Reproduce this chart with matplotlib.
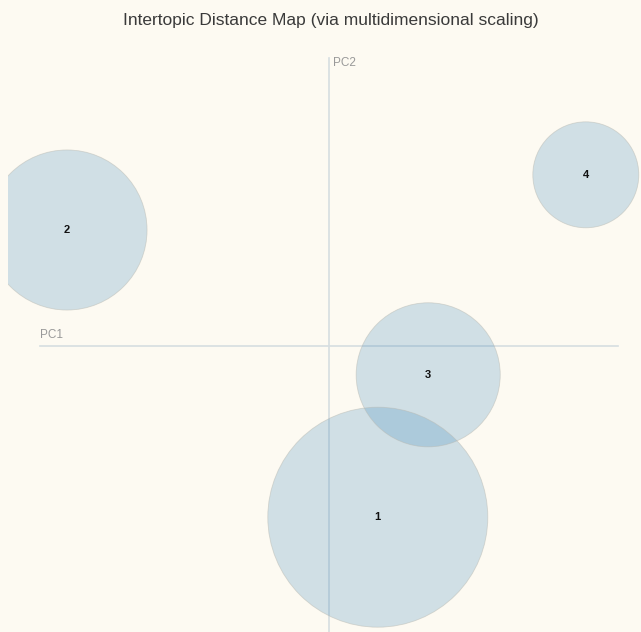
import numpy as np
import matplotlib
matplotlib.use("Agg")
import matplotlib.pyplot as plt
from matplotlib.patches import Circle

# Data (MDS coordinates, marginal topic frequency in %)
topics = ["1", "2", "3", "4"]
pc1 = [0.061, -0.3275, 0.124, 0.321]
pc2 = [-0.214, 0.145, -0.036, 0.214]
freq = [45.7, 24.2, 19.6, 10.6]

title = "Intertopic Distance Map (via multidimensional scaling)"

W, H, DPI = 641, 632, 100
S = 800.0          # pixels per data unit
ox, oy = 329, 346  # pixel position of origin (from top-left)
k = 0.1375 / np.sqrt(45.7)

bg = "#fdfaf2"
fig = plt.figure(figsize=(W / DPI, H / DPI), dpi=DPI, facecolor=bg)
left_px = 8
ax = fig.add_axes([left_px / W, 0, 1 - left_px / W, 1])
ax.set_facecolor(bg)
ax.set_xlim((left_px - ox) / S, (W - ox) / S)
ax.set_ylim((oy - H) / S, oy / S)
ax.axis("off")

# axes lines
axc = "#d6dee1"
ax.plot([(40 - ox) / S, (618 - ox) / S], [0, 0], color=axc, lw=1.2, zorder=1)
ax.plot([0, 0], [(oy - 58) / S, (oy - H) / S], color=axc, lw=1.2, zorder=1)
ax.text((40 - ox) / S, 5 / S, "PC1", color="#999999", fontsize=8.5,
        fontfamily="Liberation Sans", ha="left", va="bottom")
ax.text(4 / S, (oy - 57) / S, "PC2", color="#999999", fontsize=8.5,
        fontfamily="Liberation Sans", ha="left", va="top")

for t, x, y, f in zip(topics, pc1, pc2, freq):
    r = k * np.sqrt(f)
    c = Circle((x, y), r, facecolor="#1f77b4", alpha=0.2, edgecolor="none", zorder=2)
    ax.add_patch(c)
    ce = Circle((x, y), r, facecolor="none", edgecolor="#b8b8b0", lw=0.6, alpha=0.5, zorder=3)
    ax.add_patch(ce)
    ax.text(x, y, t, ha="center", va="center", fontsize=8, fontweight="bold",
            fontfamily="Liberation Sans", color="#111111", zorder=4)

fig.text(331 / W, 1 - 20 / H, title, ha="center", va="center", fontsize=12.5,
         fontfamily="Liberation Sans", color="#3a3a3a")

fig.savefig("out.png", dpi=DPI, facecolor=bg)
